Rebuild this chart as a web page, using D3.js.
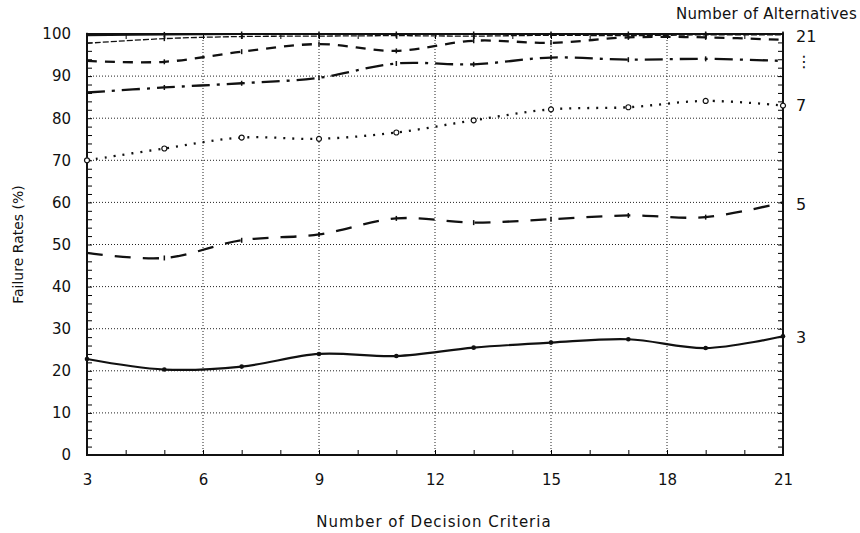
<!DOCTYPE html>
<html>
<head>
<meta charset="utf-8">
<script src="https://cdn.jsdelivr.net/npm/d3@7"></script>
<style>
  body { margin: 0; background: #fff; }
  svg text { font-family: "DejaVu Sans", sans-serif; fill: #111; }
</style>
</head>
<body>
<svg id="chart"></svg>
<script>
const criteria = [3, 5, 7, 9, 11, 13, 15, 17, 19, 21]

const alt3  = [22.8, 20.3, 21.0, 24.0, 23.5, 25.5, 26.7, 27.5, 25.4, 28.2]
const alt5  = [48.0, 46.8, 51.0, 52.4, 56.2, 55.2, 56.0, 56.9, 56.5, 60.0]
const alt7  = [70.0, 72.8, 75.4, 75.1, 76.6, 79.5, 82.1, 82.6, 84.1, 83.0]
const alt9  = [86.1, 87.3, 88.3, 89.6, 93.0, 92.8, 94.4, 93.9, 94.1, 93.6]
const alt11 = [93.6, 93.4, 95.8, 97.6, 96.0, 98.4, 97.9, 99.2, 99.2, 98.6]
const alt13 = [97.8, 98.9, 99.4, 99.5, 99.6, 99.5, 99.7, 99.6, 99.8, 99.8]
const alt21 = [99.7, 99.9, 100, 100, 100, 100, 100, 100, 100, 100]

const xTicks = [3, 6, 9, 12, 15, 18, 21]
const yTicks = [0, 10, 20, 30, 40, 50, 60, 70, 80, 90, 100]
const rightLabels = [
  {text: "21", value: 99.5},
  {text: "\u22EE", value: 93.5},
  {text: "7", value: 83},
  {text: "5", value: 59.5},
  {text: "3", value: 28}
]

function initializeElements() {
const margin = ({top: 34, right: 77, bottom: 78, left: 87})
const svgWidth = 860
const svgHeight = 533
const width = svgWidth - margin.left - margin.right
const height = svgHeight - margin.top - margin.bottom

const chart = d3.select("#chart")
  .attr("width", svgWidth)
  .attr("height", svgHeight)

const g = chart.append("g")
  .attr("transform", `translate(${margin.left}, ${margin.top})`)

const xScale = d3.scaleLinear().domain([3, 21]).range([0, width])
const yScale = d3.scaleLinear().domain([0, 100]).range([height, 0])

// dotted grid
g.append("g").selectAll("line")
  .data(yTicks.slice(1, -1))
  .join("line")
  .attr("x1", 0).attr("x2", width)
  .attr("y1", d => yScale(d)).attr("y2", d => yScale(d))
  .attr("stroke", "#222").attr("stroke-width", 1).attr("stroke-dasharray", "1,2")
g.append("g").selectAll("line")
  .data(xTicks.slice(1, -1))
  .join("line")
  .attr("y1", 0).attr("y2", height)
  .attr("x1", d => xScale(d)).attr("x2", d => xScale(d))
  .attr("stroke", "#222").attr("stroke-width", 1).attr("stroke-dasharray", "1,2")

// minor ticks inside the frame
const yMinor = d3.range(0, 101, 2)
const xMinor = d3.range(3, 22, 1)
g.append("g").call(d3.axisLeft(yScale).tickValues(yMinor).tickSize(-5).tickFormat(""))
  .call(a => a.select(".domain").remove())
g.append("g").attr("transform", `translate(${width},0)`)
  .call(d3.axisRight(yScale).tickValues(yMinor).tickSize(-5).tickFormat(""))
  .call(a => a.select(".domain").remove())
g.append("g").attr("transform", `translate(0,${height})`)
  .call(d3.axisBottom(xScale).tickValues(xMinor).tickSize(-5).tickFormat(""))
  .call(a => a.select(".domain").remove())
g.append("g")
  .call(d3.axisTop(xScale).tickValues(xMinor).tickSize(-5).tickFormat(""))
  .call(a => a.select(".domain").remove())

// tick labels
g.append("g").attr("transform", `translate(0,${height})`)
  .call(d3.axisBottom(xScale).tickValues(xTicks).tickSize(0).tickPadding(19).tickFormat(d3.format("d")))
  .call(a => a.select(".domain").remove())
  .selectAll("text").style("font-size", "15px")
g.append("g")
  .call(d3.axisLeft(yScale).tickValues(yTicks).tickSize(0).tickPadding(16).tickFormat(d3.format("d")))
  .call(a => a.select(".domain").remove())
  .selectAll("text").style("font-size", "15px")

// frame
g.append("rect")
  .attr("x", 0).attr("y", 0).attr("width", width).attr("height", height)
  .attr("fill", "none").attr("stroke", "#111").attr("stroke-width", 2)

const series = [
  {values: alt3,  dash: null,        w: 2.2, marker: "dot"},
  {values: alt5,  dash: "16,12",     w: 2.3, marker: "tick"},
  {values: alt7,  dash: "2,7",       w: 2.3, marker: "circle"},
  {values: alt9,  dash: "18,7,3,7",  w: 2.3, marker: "tick"},
  {values: alt11, dash: "10,8",      w: 2.3, marker: "tick"},
  {values: alt13, dash: "6,2",       w: 1.3, marker: "tick"},
  {values: alt21, dash: null,        w: 2, marker: "tick"}
]

const line = d3.line()
  .x((d, i) => xScale(criteria[i]))
  .y(d => yScale(d))
  .curve(d3.curveCatmullRom)

const lines = g.append("g")
series.forEach(s => {
  lines.append("path")
    .datum(s.values)
    .attr("d", line)
    .attr("fill", "none")
    .attr("stroke", "#111")
    .attr("stroke-width", s.w)
    .attr("stroke-dasharray", s.dash)
  const m = lines.append("g").selectAll("g")
    .data(s.values)
    .join("g")
    .attr("transform", (d, i) => `translate(${xScale(criteria[i])},${yScale(d)})`)
  if (s.marker === "dot") {
    m.append("circle").attr("r", 2.3).attr("fill", "#111")
  } else if (s.marker === "circle") {
    m.append("circle").attr("r", 2.5).attr("fill", "#fff").attr("stroke", "#111").attr("stroke-width", 1.2)
  } else {
    m.append("line").attr("y1", -2.5).attr("y2", 2.5).attr("stroke", "#111").attr("stroke-width", 1.5)
  }
})

// right labels
chart.append("g").selectAll("text")
  .data(rightLabels)
  .join("text")
  .attr("x", margin.left + width + 13)
  .attr("y", d => margin.top + yScale(d.value))
  .attr("dy", "0.35em")
  .style("font-size", "16px")
  .text(d => d.text)

chart.append("text")
  .attr("x", 857)
  .attr("y", 19)
  .attr("text-anchor", "end")
  .style("font-size", "15px")
  .style("letter-spacing", "0.3px")
  .text("Number of Alternatives")

// axis titles
chart.append("text")
  .attr("x", margin.left + width / 2 - 1)
  .attr("y", 527)
  .attr("text-anchor", "middle")
  .style("font-size", "15px")
  .style("letter-spacing", "1px")
  .text("Number of Decision Criteria")

chart.append("text")
  .attr("transform", `translate(23, ${margin.top + height / 2}) rotate(-90)`)
  .attr("text-anchor", "middle")
  .style("font-size", "14px")
  .text("Failure Rates (%)")
}

initializeElements();
</script>
</body>
</html>
